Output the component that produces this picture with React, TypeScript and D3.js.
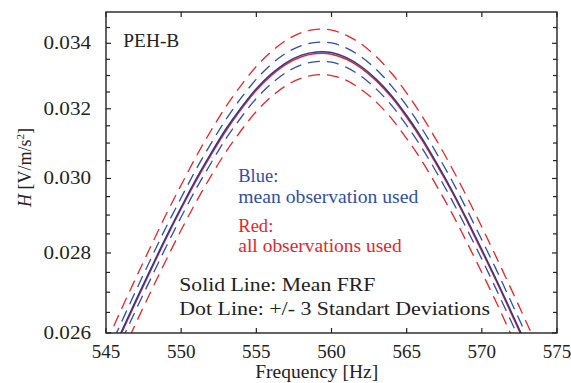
import React from "react";
import * as d3 from "d3";

const freqs = [545, 546, 547, 548, 549, 550, 551, 552, 553, 554, 555, 556, 557, 558, 559, 560, 561, 562, 563, 564, 565, 566, 567, 568, 569, 570, 571, 572, 573, 574];
const blueMean = [0.02522, 0.02601, 0.02681, 0.02761, 0.02842, 0.02921, 0.02999, 0.03072, 0.03142, 0.03204, 0.0326, 0.03305, 0.0334, 0.03363, 0.03373, 0.03371, 0.03355, 0.03327, 0.03288, 0.03239, 0.0318, 0.03115, 0.03043, 0.02968, 0.02889, 0.02809, 0.02729, 0.02648, 0.02569, 0.02491];
const blueUpper = [0.02545, 0.02624, 0.02705, 0.02786, 0.02868, 0.02947, 0.03026, 0.031, 0.0317, 0.03233, 0.03289, 0.03335, 0.0337, 0.03393, 0.03403, 0.03401, 0.03385, 0.03357, 0.03318, 0.03268, 0.03209, 0.03143, 0.0307, 0.02995, 0.02915, 0.02834, 0.02754, 0.02672, 0.02592, 0.02513];
const blueLower = [0.02499, 0.02578, 0.02657, 0.02736, 0.02816, 0.02895, 0.02972, 0.03044, 0.03114, 0.03175, 0.03231, 0.03275, 0.0331, 0.03333, 0.03343, 0.03341, 0.03325, 0.03297, 0.03258, 0.0321, 0.03151, 0.03087, 0.03016, 0.02941, 0.02863, 0.02784, 0.02704, 0.02624, 0.02546, 0.02469];
const redMean = [0.02518, 0.02597, 0.02677, 0.02757, 0.02838, 0.02917, 0.02994, 0.03067, 0.03137, 0.03199, 0.03255, 0.033, 0.03335, 0.03358, 0.03368, 0.03366, 0.0335, 0.03322, 0.03283, 0.03234, 0.03175, 0.0311, 0.03038, 0.02964, 0.02885, 0.02805, 0.02725, 0.02644, 0.02565, 0.02487];
const redUpper = [0.02575, 0.02656, 0.02737, 0.02819, 0.02902, 0.02982, 0.03062, 0.03137, 0.03208, 0.03271, 0.03328, 0.03374, 0.0341, 0.03434, 0.03444, 0.03442, 0.03425, 0.03397, 0.03357, 0.03307, 0.03247, 0.0318, 0.03107, 0.0303, 0.0295, 0.02868, 0.02786, 0.02704, 0.02623, 0.02543];
const redLower = [0.02469, 0.02546, 0.02625, 0.02703, 0.02782, 0.0286, 0.02936, 0.03008, 0.03076, 0.03137, 0.03192, 0.03236, 0.0327, 0.03292, 0.03302, 0.033, 0.03285, 0.03257, 0.03219, 0.03171, 0.03113, 0.0305, 0.02979, 0.02906, 0.02828, 0.0275, 0.02672, 0.02592, 0.02515, 0.02439];

const xTicks = [545, 550, 555, 560, 565, 570, 575];
const yMajorTicks = [0.026, 0.028, 0.03, 0.032, 0.034];
const yMinorTicks = [0.0265, 0.027, 0.0275, 0.0285, 0.029, 0.0295, 0.0305, 0.031, 0.0315, 0.0325, 0.033, 0.0335, 0.0345];

const BLUE = "#2f4fa6";
const BLUE_DARK = "#2b3a8c";
const RED = "#e8252c";
const FONT = "'Liberation Serif', 'Times New Roman', serif";

export default function App() {
  const left = 106, right = 557, top = 12, bottom = 333;
  const x = d3.scaleLinear().domain([545, 575]).range([left, right]);
  const y = d3.scaleLog().domain([0.026, 0.035]).range([bottom, top]);

  const mk = (vals: number[]) =>
    d3.line<number>().x((_, i) => x(freqs[i])).y((v) => y(v)).curve(d3.curveCatmullRom.alpha(0.5))(vals) || "";

  const dash = "12,7";
  return (
    <svg width={571} height={383} style={{ position: "absolute", left: 0, top: 0, background: "#fff" }} fontFamily={FONT}>
      <defs>
        <clipPath id="plot">
          <rect x={left} y={top} width={right - left} height={bottom - top} />
        </clipPath>
      </defs>
      <g clipPath="url(#plot)" fill="none">
        <path d={mk(redUpper)} stroke={RED} strokeWidth={1.3} strokeDasharray={dash} />
        <path d={mk(redLower)} stroke={RED} strokeWidth={1.3} strokeDasharray={dash} />
        <path d={mk(blueUpper)} stroke={BLUE} strokeWidth={1.3} strokeDasharray={dash} />
        <path d={mk(blueLower)} stroke={BLUE} strokeWidth={1.3} strokeDasharray={dash} />
        <path d={mk(redMean)} stroke={RED} strokeWidth={1.5} />
        <path d={mk(blueMean)} stroke={BLUE_DARK} strokeWidth={1.5} />
      </g>
      {/* frame */}
      <rect x={left} y={top} width={right - left} height={bottom - top} fill="none" stroke="#222" strokeWidth={1.4} />
      {/* x ticks */}
      {xTicks.map((t) => (
        <g key={"x" + t}>
          <line x1={x(t)} x2={x(t)} y1={bottom} y2={bottom - 5} stroke="#222" strokeWidth={1.2} />
          <line x1={x(t)} x2={x(t)} y1={top} y2={top + 5} stroke="#222" strokeWidth={1.2} />
          <text x={x(t)} y={358} textAnchor="middle" fontSize={19} fill="#222">{t}</text>
        </g>
      ))}
      {/* y ticks */}
      {yMajorTicks.map((t) => (
        <g key={"y" + t}>
          <line x1={left} x2={left + 5} y1={y(t)} y2={y(t)} stroke="#222" strokeWidth={1.2} />
          <line x1={right} x2={right - 5} y1={y(t)} y2={y(t)} stroke="#222" strokeWidth={1.2} />
          <text x={91} y={y(t) + 6} textAnchor="end" fontSize={18} fill="#222" textLength={47.5} lengthAdjust="spacingAndGlyphs">{t.toFixed(3)}</text>
        </g>
      ))}
      {yMinorTicks.map((t) => (
        <g key={"ym" + t}>
          <line x1={left} x2={left + 4} y1={y(t)} y2={y(t)} stroke="#222" strokeWidth={1.2} />
          <line x1={right} x2={right - 4} y1={y(t)} y2={y(t)} stroke="#222" strokeWidth={1.2} />
        </g>
      ))}
      <text x={316.7} y={378} textAnchor="middle" fontSize={18} fill="#222" textLength={123} lengthAdjust="spacingAndGlyphs">Frequency [Hz]</text>
      <text transform="translate(30.5,167.5) rotate(-90)" textAnchor="middle" fontSize={18} fill="#222">
        <tspan fontStyle="italic">H</tspan>
        <tspan> [V/m/s</tspan>
        <tspan fontSize={11} dy={-7}>2</tspan>
        <tspan dy={7}>]</tspan>
      </text>
      <text x={123.3} y={46.7} fontSize={18.5} fill="#222" textLength={56} lengthAdjust="spacingAndGlyphs">PEH-B</text>
      <text x={238.3} y={181.7} fontSize={18.5} fill={BLUE} textLength={40} lengthAdjust="spacingAndGlyphs">Blue:</text>
      <text x={238.3} y={202.5} fontSize={18.5} fill={BLUE} textLength={180} lengthAdjust="spacingAndGlyphs">mean observation used</text>
      <text x={238.3} y={231.7} fontSize={18.5} fill={RED} textLength={35} lengthAdjust="spacingAndGlyphs">Red:</text>
      <text x={238.3} y={251.7} fontSize={18.5} fill={RED} textLength={163.4} lengthAdjust="spacingAndGlyphs">all observations used</text>
      <text x={179.3} y={291} fontSize={19.5} fill="#222" textLength={196} lengthAdjust="spacingAndGlyphs">Solid Line: Mean FRF</text>
      <text x={179.3} y={314.5} fontSize={19.5} fill="#222" textLength={310.7} lengthAdjust="spacingAndGlyphs">Dot Line: +/- 3 Standart Deviations</text>
    </svg>
  );
}
